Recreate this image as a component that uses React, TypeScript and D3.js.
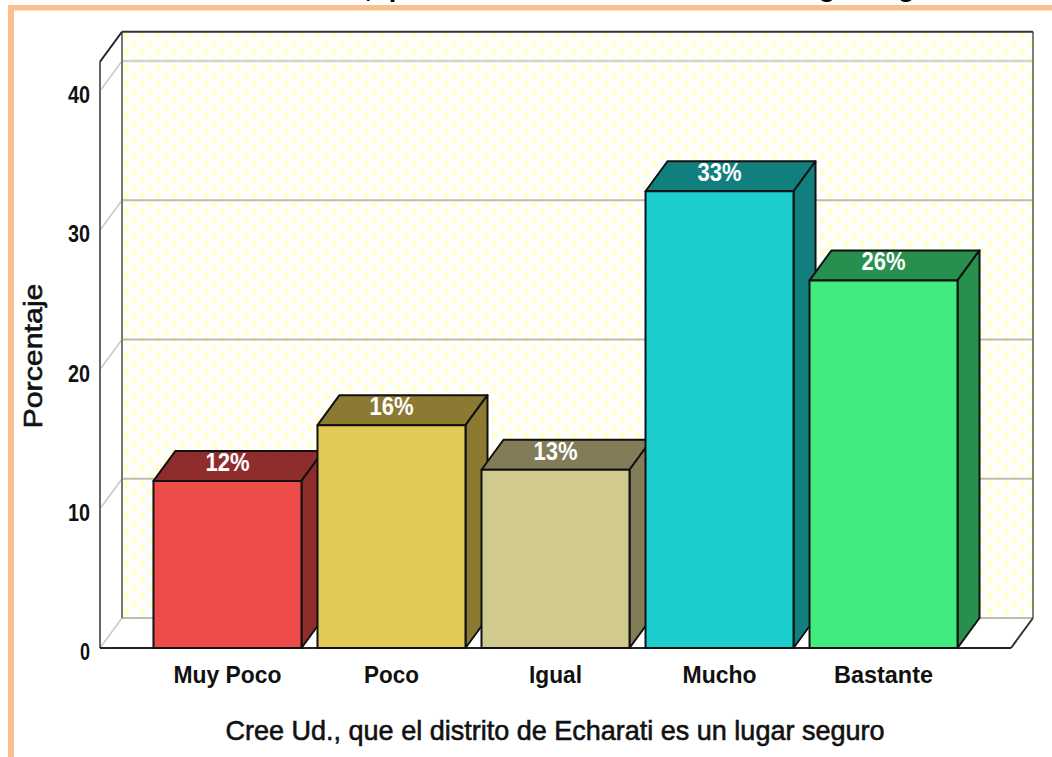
import React from "react";
import * as d3 from "d3";

const categories = ["Muy Poco", "Poco", "Igual", "Mucho", "Bastante"];
const values = [12.0, 16.0, 12.8, 32.8, 26.4];
const barLabels = ["12%", "16%", "13%", "33%", "26%"];
const frontColors = ["#EE4B4B", "#E3C955", "#D0CA8E", "#1CCDCD", "#42EB80"];
const shadeColors = ["#8F2D2D", "#8C7A33", "#827D58", "#127F7F", "#27904F"];
const yTicks = [0, 10, 20, 30, 40];
const categoryLabelWidths = [108, 55, 53, 74, 99];
const axisTop = 42.1;
const xTitle = "Cree Ud., que el distrito de Echarati es un lugar seguro";
const yTitle = "Porcentaje";

const W = 1052, H = 757;
const DX = 22, DY = -30;
const FONT = "'Liberation Sans', Arial, sans-serif";

const y = d3.scaleLinear().domain([0, 40]).range([648, 91]);
const x = d3.scaleBand<string>().domain(categories).range([100, 1011]).paddingInner(16 / 164).paddingOuter(0.326);

const poly = (pts: [number, number][]) => pts.map((p) => p.join(",")).join(" ");

export default function App() {
  const x0 = 100, x1 = 1011;
  const y0 = y(0), yT = y(axisTop);
  const bw = x.bandwidth();
  return (
    <svg width={W} height={H} viewBox={`0 0 ${W} ${H}`} style={{ position: "absolute", left: 0, top: 0, background: "#fff" }}>
      <defs>
        <pattern id="dots" width={16} height={16} patternUnits="userSpaceOnUse" x={122} y={32}>
          <rect width={16} height={16} fill="#ffffff" />
          {[[4, 4], [12, 12]].map(([cx, cy], i) => (
            <path key={i} fill="#ffffd0"
              d={`M${cx - 1.5} ${cy - 4}h3v2.5h2.5v3h-2.5v2.5h-3v-2.5h-2.5v-3h2.5z`} />
          ))}
        </pattern>
      </defs>

      {/* page frame */}
      <rect x={8} y={5} width={W - 8} height={5.5} fill="#FBC08E" />
      <rect x={8} y={5} width={6} height={H - 5} fill="#FBC08E" />

      {/* clipped chart title */}
      <text x={606} y={-3} textAnchor="middle" fontFamily={FONT} fontWeight="bold" fontSize={26}
        textLength={704} lengthAdjust="spacingAndGlyphs" fill="#000">{xTitle}</text>

      {/* back wall */}
      <rect x={x0 + DX} y={yT + DY} width={x1 - x0} height={y0 - yT} fill="url(#dots)" />

      {/* grid on the back wall and left wall */}
      {yTicks.map((t) => (
        <g key={t}>
          <line x1={x0} x2={x0 + DX} y1={y(t)} y2={y(t) + DY} stroke="#c8c8c8" strokeWidth={1.5} />
          <line x1={x0 + DX} x2={x1 + DX} y1={y(t) + DY} y2={y(t) + DY}
            stroke={t === 40 ? "#d2d2ce" : "#bcbcb2"} strokeWidth={t === 40 ? 2.5 : 2} />
        </g>
      ))}

      {/* walls outline */}
      <line x1={x0 + DX} x2={x0 + DX} y1={yT + DY} y2={y0 + DY} stroke="#77776f" strokeWidth={2} />
      <line x1={x1 + DX} x2={x1 + DX} y1={yT + DY} y2={y0 + DY} stroke="#808076" strokeWidth={2} />
      <line x1={x0} x2={x0} y1={yT} y2={y0} stroke="#666" strokeWidth={2} />
      <line x1={x0} x2={x0 + DX} y1={yT} y2={yT + DY} stroke="#222" strokeWidth={2} />
      <line x1={x0 + DX} x2={x1 + DX} y1={yT + DY} y2={yT + DY} stroke="#333" strokeWidth={2} />
      <line x1={x1} x2={x1 + DX} y1={y0} y2={y0 + DY} stroke="#333" strokeWidth={2} />
      <line x1={x0} x2={x1} y1={y0} y2={y0} stroke="#222" strokeWidth={2} />

      {/* bars */}
      {categories.map((c, i) => {
        const bx = x(c)!, by = y(values[i]);
        const r = bx + bw;
        return (
          <g key={c} stroke="#111" strokeWidth={2} strokeLinejoin="round">
            <polygon points={poly([[bx, by], [bx + DX, by + DY], [r + DX, by + DY], [r, by]])} fill={shadeColors[i]} />
            <polygon points={poly([[r, by], [r + DX, by + DY], [r + DX, y0 + DY], [r, y0]])} fill={shadeColors[i]} />
            <rect x={bx} y={by} width={bw} height={y0 - by} fill={frontColors[i]} />
          </g>
        );
      })}
      {categories.map((c, i) => (
        <text key={c} x={x(c)! + bw / 2} y={y(values[i]) - 10} textAnchor="middle" fontFamily={FONT}
          fontWeight="bold" fontSize={26} textLength={44} lengthAdjust="spacingAndGlyphs" fill="#fff">{barLabels[i]}</text>
      ))}

      {/* y tick labels */}
      {yTicks.map((t) => (
        <text key={t} x={90} y={y(t) + 12} textAnchor="end" fontFamily={FONT} fontWeight="bold" fontSize={24}
          textLength={t === 0 ? 10 : 22} lengthAdjust="spacingAndGlyphs" fill="#111">{t}</text>
      ))}

      {/* category labels */}
      {categories.map((c, i) => (
        <text key={c} x={x(c)! + bw / 2} y={683} textAnchor="middle" fontFamily={FONT} fontWeight="bold" fontSize={24}
          textLength={categoryLabelWidths[i]} lengthAdjust="spacingAndGlyphs" fill="#111">{c}</text>
      ))}

      {/* axis titles */}
      <text x={555} y={740} textAnchor="middle" fontFamily={FONT} fontSize={28}
        stroke="#111" strokeWidth={0.6} textLength={659} lengthAdjust="spacingAndGlyphs" fill="#111">{xTitle}</text>
      <text transform="translate(42,356) rotate(-90)" textAnchor="middle" fontFamily={FONT} fontSize={26}
        stroke="#111" strokeWidth={0.6} textLength={145} lengthAdjust="spacingAndGlyphs" fill="#111">{yTitle}</text>
    </svg>
  );
}
